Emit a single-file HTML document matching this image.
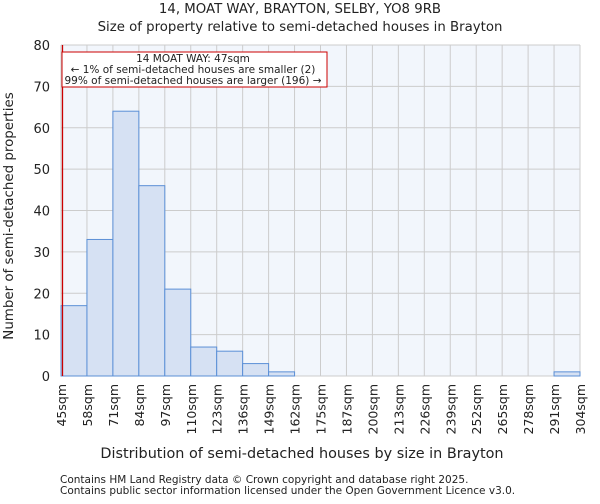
<!DOCTYPE html>
<html><head><meta charset="utf-8"><style>
body{margin:0;background:#fff;font-family:"DejaVu Sans","Liberation Sans",sans-serif;}
svg text{font-family:"DejaVu Sans","Liberation Sans",sans-serif;fill:#222;}
</style></head><body>
<svg id="c" width="600" height="500" xmlns="http://www.w3.org/2000/svg">
<text x="300" y="13" text-anchor="middle" font-size="13.3">14, MOAT WAY, BRAYTON, SELBY, YO8 9RB</text>
<text x="300" y="31" text-anchor="middle" font-size="13.3">Size of property relative to semi-detached houses in Brayton</text>
<rect x="61" y="45" width="519" height="331" fill="#f2f6fc"/>
<g id="grid"></g><g id="bars"></g><g id="axes"></g>
<text x="302" y="458" text-anchor="middle" font-size="14.4">Distribution of semi-detached houses by size in Brayton</text>
<text transform="translate(13,216) rotate(-90)" text-anchor="middle" font-size="13.4">Number of semi-detached properties</text>
<text x="60" y="483" font-size="10.5" fill="#444">Contains HM Land Registry data © Crown copyright and database right 2025.</text>
<text x="60" y="494" font-size="10.5" fill="#444">Contains public sector information licensed under the Open Government Licence v3.0.</text>
</svg>
<script>
const binEdges=[45,58,71,84,97,110,123,136,149,162,175,187,200,213,226,239,252,265,278,291,304];
const counts=[17,33,64,46,21,7,6,3,1,0,0,0,0,0,0,0,0,0,0,1];
const yTicks=[0,10,20,30,40,50,60,70,80];
const subjectSize=47;
const NS="http://www.w3.org/2000/svg";
const X0=61,X1=580,Y0=376,Y1=45;
const xi=i=>X0+i*(X1-X0)/(binEdges.length-1);
const xv=v=>{for(let i=0;i<binEdges.length-1;i++){if(v<=binEdges[i+1])return xi(i)+(v-binEdges[i])/(binEdges[i+1]-binEdges[i])*(xi(i+1)-xi(i));}return X1;};
const y=v=>Y0+(Y1-Y0)*v/80;
function mk(t,a,p){const e=document.createElementNS(NS,t);for(const k in a)e.setAttribute(k,a[k]);p.appendChild(e);return e;}
const g=document.getElementById('grid'),b=document.getElementById('bars'),ax=document.getElementById('axes');
yTicks.forEach(t=>{
 const l=mk('line',{x1:X0,x2:X1,y1:y(t),y2:y(t),stroke:'#ccc'},g);
 
 
 const tx=mk('text',{x:50,y:y(t)+5,'text-anchor':'end','font-size':'13'},ax);tx.textContent=t;
 
 
});
binEdges.forEach((v,i)=>{
 const l=mk('line',{x1:xi(i),x2:xi(i),y1:Y1,y2:Y0,stroke:'#ccc'},g);
 
 
 const tx=mk('text',{transform:`translate(${xi(i)+5},${Y0+8}) rotate(-90)`,'text-anchor':'end','font-size':'12.5'},ax);tx.textContent=v+'sqm';
 
 
});
counts.forEach((c,i)=>{
 if(c<=0)return;
 const r=mk('rect',{x:xi(i),y:y(c),width:xi(i+1)-xi(i),height:Y0-y(c),fill:'#d6e1f3',stroke:'#5b8fd6','stroke-width':1},b);
 
 
});
const rl=mk('line',{x1:xv(subjectSize)-2.5,x2:xv(subjectSize)-2.5,y1:Y1,y2:Y0,stroke:'#c00','stroke-width':1.3},ax);


const box=mk('rect',{x:62,y:52,width:265,height:35,fill:'#fff',stroke:'#c00'},ax);


['14 MOAT WAY: 47sqm','← 1% of semi-detached houses are smaller (2)','99% of semi-detached houses are larger (196) →'].forEach((s,k)=>{
 const t=mk('text',{x:193,y:62+k*11,'text-anchor':'middle','font-size':'10.5'},ax);t.textContent=s;
 
 
});
</script>
</body></html>
